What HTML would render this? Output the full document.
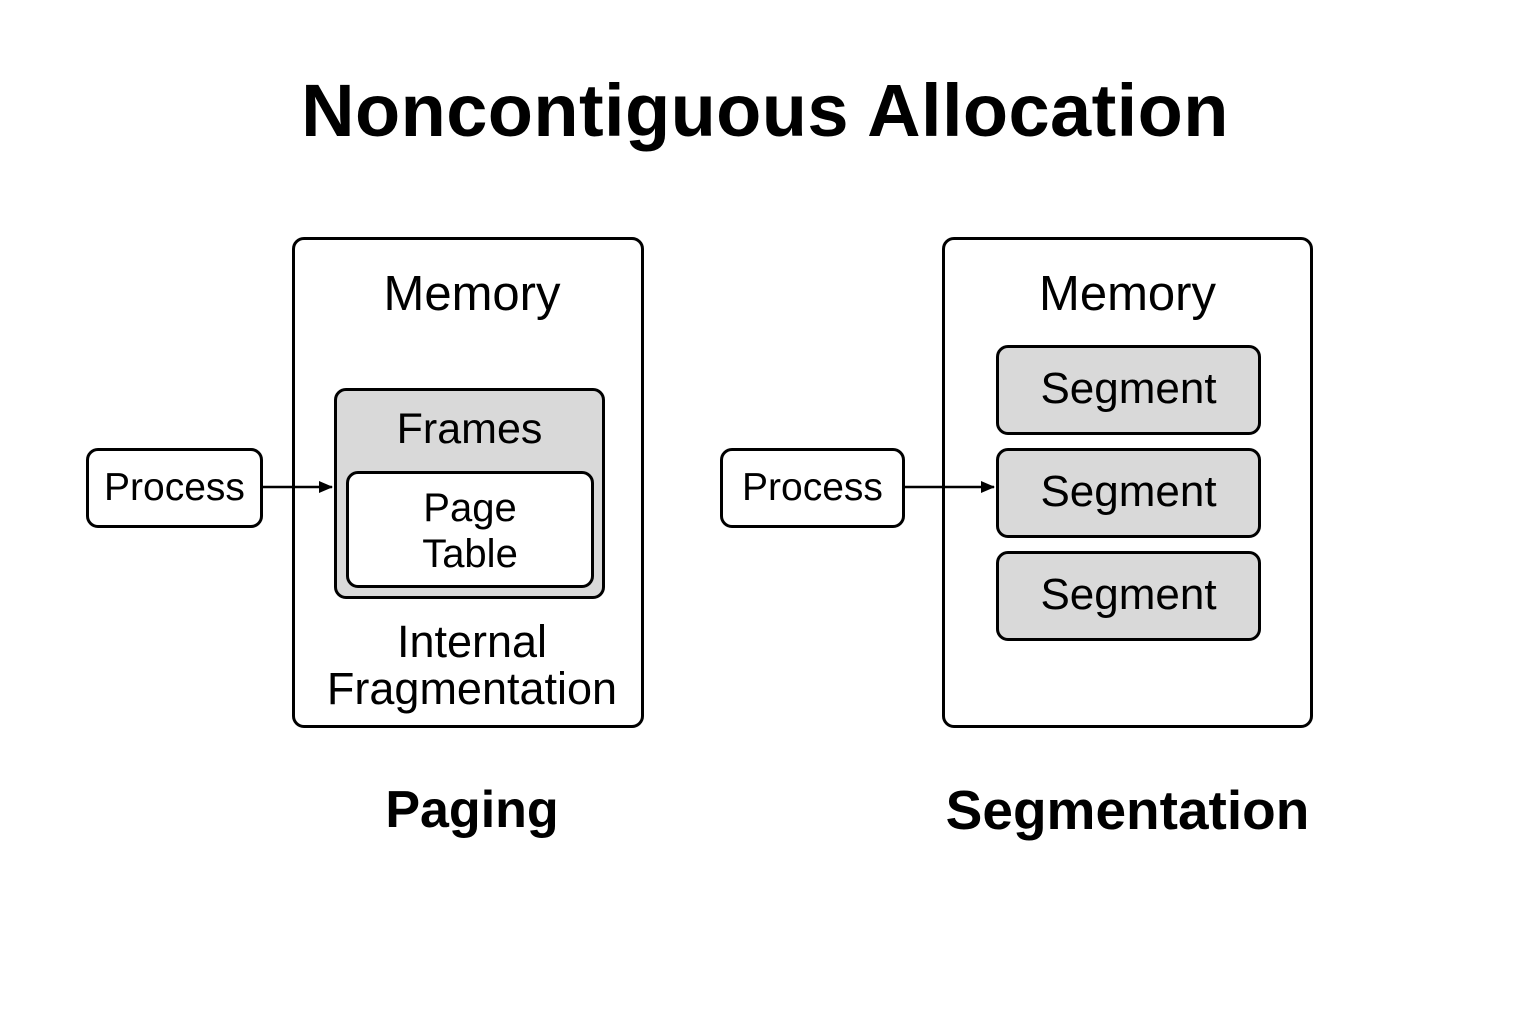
<!DOCTYPE html>
<html><head><meta charset="utf-8"><style>
html,body{margin:0;padding:0;background:#fff;}
body{width:1536px;height:1024px;position:relative;overflow:hidden;font-family:"Liberation Sans",sans-serif;color:#000;}
.a{position:absolute;box-sizing:border-box;}
.t{position:absolute;text-align:center;white-space:nowrap;}
.box{border:3px solid #000;border-radius:12px;background:#fff;}
.gray{background:#d9d9d9;}
</style></head><body>
<div class="t" style="left:0;width:1530px;top:68px;font-size:74px;font-weight:bold;letter-spacing:0.4px;">Noncontiguous Allocation</div>

<!-- Paging -->
<div class="a box" style="left:292px;top:237px;width:352px;height:491px;"></div>
<div class="t" style="left:292px;width:360px;top:266px;font-size:49px;">Memory</div>
<div class="a box gray" style="left:334px;top:388px;width:271px;height:211px;"></div>
<div class="t" style="left:334px;width:271px;top:405px;font-size:43px;">Frames</div>
<div class="a box" style="left:346px;top:471px;width:248px;height:117px;"></div>
<div class="t" style="left:346px;width:248px;top:485px;font-size:40px;line-height:46px;">Page<br>Table</div>
<div class="t" style="left:292px;width:360px;top:618px;font-size:45px;line-height:47px;">Internal<br>Fragmentation</div>
<div class="a box" style="left:86px;top:448px;width:177px;height:80px;"></div>
<div class="t" style="left:86px;width:177px;top:466px;font-size:39px;">Process</div>

<!-- Segmentation -->
<div class="a box" style="left:942px;top:237px;width:371px;height:491px;"></div>
<div class="t" style="left:942px;width:371px;top:266px;font-size:49px;">Memory</div>
<div class="a box gray" style="left:996px;top:345px;width:265px;height:90px;"></div>
<div class="t" style="left:996px;width:265px;top:364px;font-size:44px;">Segment</div>
<div class="a box gray" style="left:996px;top:448px;width:265px;height:90px;"></div>
<div class="t" style="left:996px;width:265px;top:467px;font-size:44px;">Segment</div>
<div class="a box gray" style="left:996px;top:551px;width:265px;height:90px;"></div>
<div class="t" style="left:996px;width:265px;top:570px;font-size:44px;">Segment</div>
<div class="a box" style="left:720px;top:448px;width:185px;height:80px;"></div>
<div class="t" style="left:720px;width:185px;top:466px;font-size:39px;">Process</div>

<svg class="a" style="left:0;top:0" width="1536" height="1024">
<defs><marker id="ar" markerWidth="14" markerHeight="12" refX="13" refY="6" orient="auto" markerUnits="userSpaceOnUse"><path d="M0,0 L14,6 L0,12 z" fill="#000"/></marker></defs>
<line x1="263" y1="487" x2="332" y2="487" stroke="#000" stroke-width="2.5" marker-end="url(#ar)"/>
<line x1="905" y1="487" x2="994" y2="487" stroke="#000" stroke-width="2.5" marker-end="url(#ar)"/>
</svg>

<div class="t" style="left:292px;width:360px;top:780px;font-size:52px;font-weight:bold;">Paging</div>
<div class="t" style="left:942px;width:371px;top:778px;font-size:55px;font-weight:bold;">Segmentation</div>
</body></html>
